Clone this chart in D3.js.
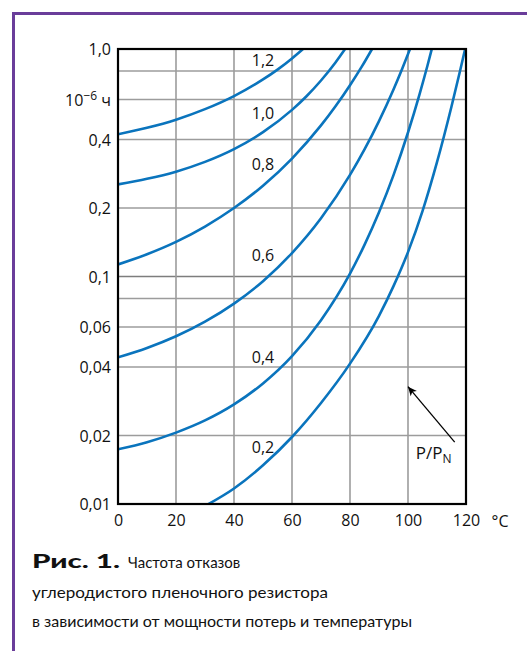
<!DOCTYPE html>
<html>
<head>
<meta charset="UTF-8">
<title>Частота отказов</title>
<style>
  body { margin: 0; background: #fff; }
  svg { display: block; }
  text { font-family: "Open Sans", "DejaVu Sans", sans-serif; fill: #111; }
  .caption { font-family: Lato, "Noto Sans", sans-serif; }
</style>
</head>
<body>
<svg></svg>
<script src="https://d3js.org/d3.v7.min.js"></script>
<script>

// temperature ticks, deg C
const xTicks = [0, 20, 40, 60, 80, 100, 120];
// failure rate ticks, 10^-6 1/h
const yTicks = [1, 0.6, 0.4, 0.2, 0.1, 0.06, 0.04, 0.02, 0.01];
const yTickLabels = ["1,0", "", "0,4", "0,2", "0,1", "0,06", "0,04", "0,02", "0,01"];
const yGrid = [0.02, 0.04, 0.06, 0.08, 0.1, 0.2, 0.4, 0.6, 0.8];

// P/PN for each curve
const ratios = ["1,2", "1,0", "0,8", "0,6", "0,4", "0,2"];

// curve points [temperature, failure rate]
const c12 = [[0,0.422],[10,0.4505],[20,0.489],[30,0.544],[40,0.621],[50,0.735],[55,0.812],[60,0.909],[63.8,1.0]];
const c10 = [[0,0.254],[10,0.2687],[20,0.289],[30,0.319],[40,0.363],[50,0.431],[60,0.54],[65,0.62],[70,0.727],[75,0.873],[78.3,1.0]];
const c08 = [[0,0.113],[10,0.1253],[20,0.142],[30,0.1658],[40,0.2],[50,0.2506],[60,0.33],[70,0.4614],[75,0.56],[80,0.693],[84,0.834],[87.6,1.0]];
const c06 = [[0,0.0441],[10,0.0485],[20,0.0546],[30,0.0633],[40,0.076],[50,0.0954],[60,0.1268],[70,0.1803],[80,0.2795],[85,0.3617],[90,0.482],[95,0.664],[98,0.8195],[100.7,1.0]];
const c04 = [[0,0.0174],[10,0.0187],[20,0.0206],[30,0.0233],[40,0.0274],[50,0.0339],[60,0.0447],[70,0.0643],[80,0.103],[85,0.1378],[90,0.1915],[95,0.279],[100,0.4295],[104,0.634],[106.7,0.844],[108.2,1.0]];
const c02 = [[30,0.0098],[40,0.0117],[50,0.0148],[60,0.0197],[70,0.0278],[80,0.0414],[90,0.0672],[95,0.0907],[100,0.128],[105,0.1938],[110,0.318],[115,0.559],[117.9,0.796],[119.7,1.0]];

// where the curve labels sit [temperature, failure rate]
const labelAt = [[50,0.894],[50,0.52],[50,0.311],[50,0.124],[50,0.0441],[50,0.0178]];

// arrow to the curve family
const arrowFrom = [116.1, 0.0187], arrowTo = [100, 0.0328];

const caption = [
  "углеродистого пленочного резистора",
  "в зависимости от мощности потерь и температуры"
];

let width = 527, height = 651;
let mLeft = 118, mRight = 466, mTop = 49, mBottom = 504;

let svg = d3.select("svg")
    .attr("width", width)
    .attr("height", height);

svg.append("rect").attr("width", width).attr("height", height).attr("fill", "#fff");

// purple frame, only top and left are visible
svg.append("path")
    .attr("d", "M13.5," + height + " V13.5 H" + width)
    .attr("fill", "none")
    .attr("stroke", "#6a3d9a")
    .attr("stroke-width", 3);

let x = d3.scaleLinear().domain([0, 120]).range([mLeft, mRight]);
let y = d3.scaleLog().domain([0.01, 1]).range([mBottom, mTop]);

// grid
svg.append("g")
  .selectAll("line")
  .data(yGrid)
  .enter().append("line")
    .attr("x1", mLeft).attr("x2", mRight)
    .attr("y1", d => y(d)).attr("y2", d => y(d))
    .attr("stroke", d => d == 0.1 ? "#7d7d7d" : "#9c9c9c")
    .attr("stroke-width", 1.6);

svg.append("g")
  .selectAll("line")
  .data(xTicks.slice(1, -1))
  .enter().append("line")
    .attr("x1", d => x(d)).attr("x2", d => x(d))
    .attr("y1", mTop).attr("y2", mBottom)
    .attr("stroke", "#9c9c9c")
    .attr("stroke-width", 1.6);

// curves
let curves = [c12, c10, c08, c06, c04, c02];

svg.append("clipPath").attr("id", "plot")
  .append("rect")
    .attr("x", mLeft).attr("y", mTop)
    .attr("width", mRight - mLeft).attr("height", mBottom - mTop);

let line = d3.line()
    .x(d => x(d[0]))
    .y(d => y(d[1]))
    .curve(d3.curveMonotoneX);

svg.append("g")
    .attr("clip-path", "url(#plot)")
  .selectAll("path")
  .data(curves)
  .enter().append("path")
    .attr("d", line)
    .attr("fill", "none")
    .attr("stroke", "#0a74bd")
    .attr("stroke-width", 2.6);

// frame of the plot
svg.append("rect")
    .attr("x", mLeft).attr("y", mTop)
    .attr("width", mRight - mLeft).attr("height", mBottom - mTop)
    .attr("fill", "none")
    .attr("stroke", "#000")
    .attr("stroke-width", 2.2);

// curve labels
svg.append("g")
  .selectAll("text")
  .data(ratios)
  .enter().append("text")
    .attr("x", (d, i) => x(labelAt[i][0]))
    .attr("y", (d, i) => y(labelAt[i][1]))
    .attr("dy", "0.36em")
    .attr("text-anchor", "middle")
    .style("font-size", "16px")
    .text(d => d);

// axes
let yAxis = svg.append("g")
    .attr("transform", "translate(" + mLeft + ",0)")
    .call(d3.axisLeft(y)
        .tickValues(yTicks)
        .tickSize(0)
        .tickPadding(7)
        .tickFormat((d, i) => yTickLabels[i]));
yAxis.select(".domain").remove();
yAxis.attr("font-family", null).attr("font-size", null);
yAxis.selectAll("text")
    .attr("dy", "0.36em")
    .style("font-size", "16px");

// unit label on the 0,6 line
let unit = yAxis.selectAll(".tick").filter(d => d == 0.6).select("text");
unit.append("tspan").text("10");
unit.append("tspan").text("\u22126").attr("dy", "-6").style("font-size", "12px");
unit.append("tspan").text(" ч").attr("dy", "6");

let xAxis = svg.append("g")
    .attr("transform", "translate(0," + mBottom + ")")
    .call(d3.axisBottom(x)
        .tickValues(xTicks)
        .tickSize(0)
        .tickPadding(11));
xAxis.select(".domain").remove();
xAxis.attr("font-family", null).attr("font-size", null);
xAxis.selectAll("text")
    .style("font-size", "16px");

svg.append("text")
    .attr("x", 500)
    .attr("y", mBottom + 23)
    .attr("text-anchor", "middle")
    .style("font-size", "16px")
    .text("°C");

// arrow P/PN
svg.append("defs").append("marker")
    .attr("id", "arrowhead")
    .attr("viewBox", "0 -5 10 10")
    .attr("refX", 10)
    .attr("refY", 0)
    .attr("orient", "auto")
    .attr("markerUnits", "userSpaceOnUse")
    .attr("markerWidth", 11)
    .attr("markerHeight", 9)
  .append("path")
    .attr("d", "M0,-4.5 L10,0 L0,4.5 L2.5,0 Z")
    .attr("fill", "#000");

svg.append("line")
    .attr("x1", x(arrowFrom[0])).attr("y1", y(arrowFrom[1]))
    .attr("x2", x(arrowTo[0])).attr("y2", y(arrowTo[1]))
    .attr("stroke", "#000")
    .attr("stroke-width", 1.3)
    .attr("marker-end", "url(#arrowhead)");

let pp = svg.append("text")
    .attr("x", x(arrowFrom[0]) - 21)
    .attr("y", y(arrowFrom[1]) + 17)
    .attr("text-anchor", "middle")
    .style("font-size", "17px");
pp.append("tspan").text("P/P");
pp.append("tspan").text("N").attr("dy", "4").style("font-size", "12px");

// caption
svg.append("text")
    .attr("class", "caption")
    .attr("x", 32).attr("y", 568)
    .attr("textLength", 88)
    .attr("lengthAdjust", "spacingAndGlyphs")
    .style("font-size", "18px")
    .style("font-weight", "900")
    .text("Рис. 1.");

svg.append("text")
    .attr("class", "caption")
    .attr("x", 128).attr("y", 568)
    .style("font-size", "15px")
    .text("Частота отказов");

svg.selectAll("text.cap")
  .data(caption)
  .enter().append("text")
    .attr("class", "caption cap")
    .attr("x", 32)
    .attr("y", (d, i) => 598 + i * 29)
    .attr("textLength", (d, i) => i == 0 ? 296 : 380)
    .attr("lengthAdjust", "spacingAndGlyphs")
    .style("font-size", "15px")
    .text(d => d);

</script>
</body>
</html>
